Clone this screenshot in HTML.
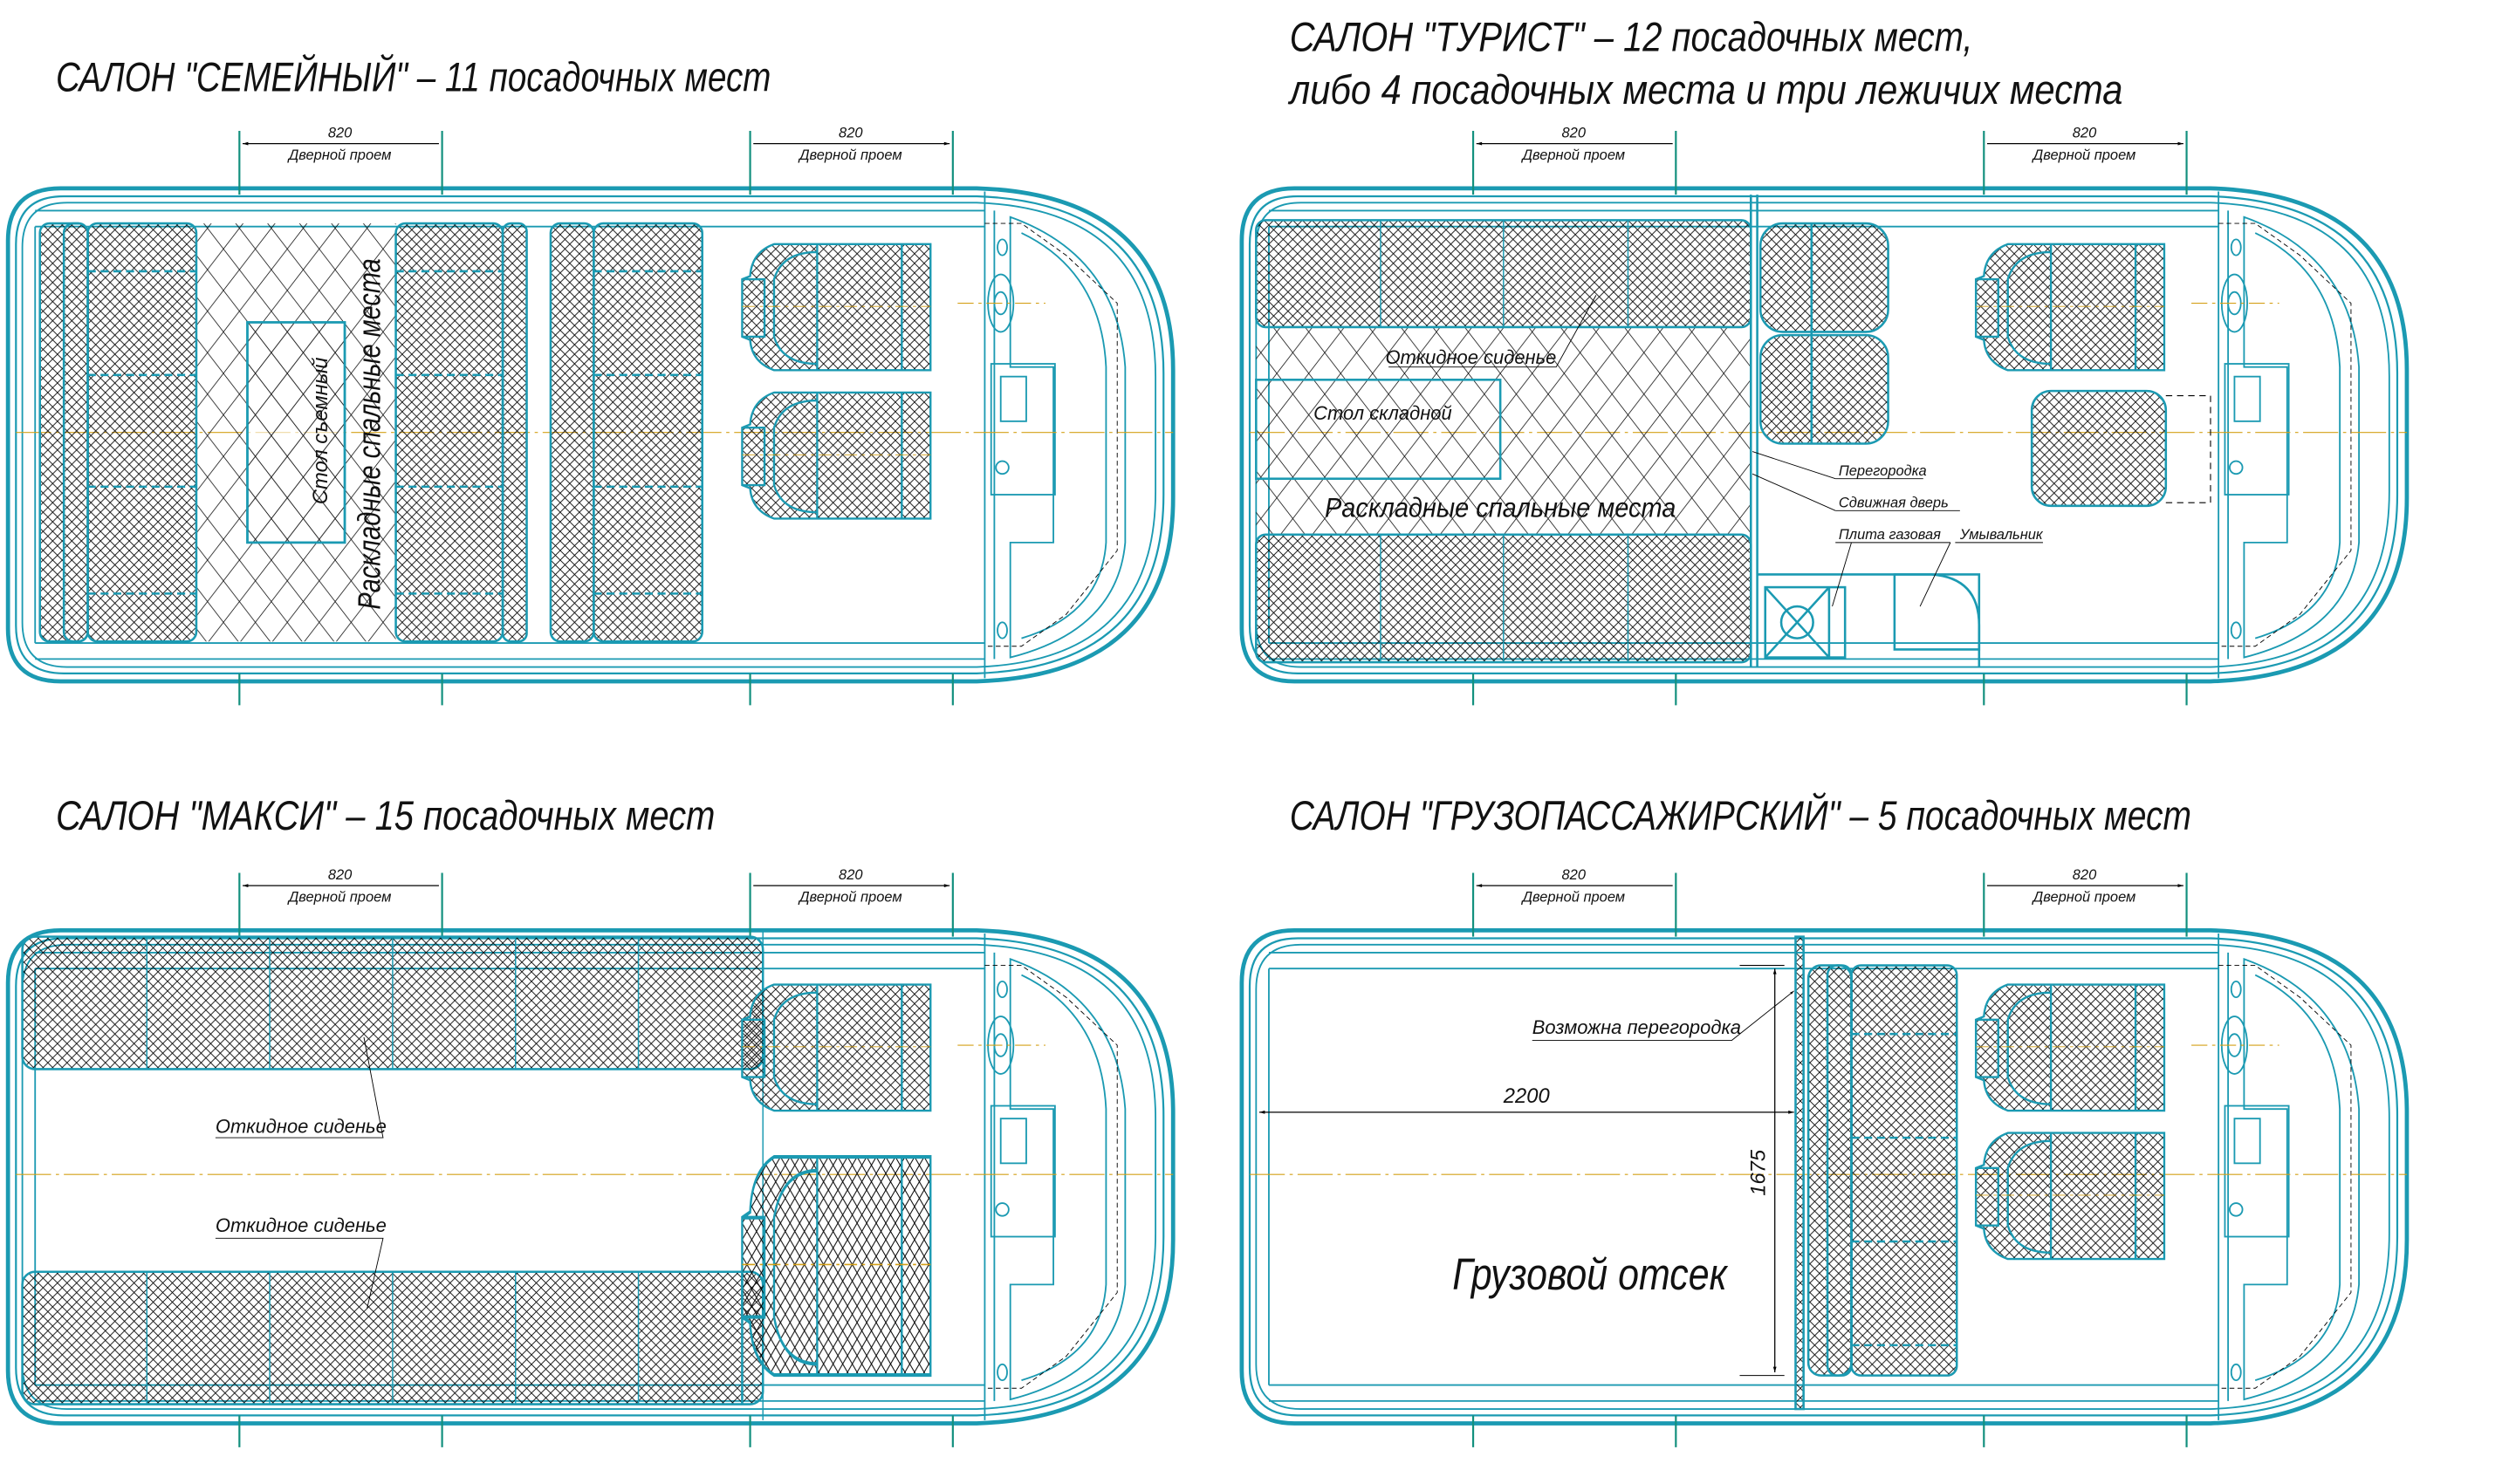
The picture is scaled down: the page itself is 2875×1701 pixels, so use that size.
<!DOCTYPE html>
<html><head><meta charset="utf-8"><style>
html,body{margin:0;padding:0;background:#fff}
svg{display:block}
text{font-family:"Liberation Sans","DejaVu Sans",sans-serif;font-style:italic;fill:#111}
</style></head><body>
<svg width="2875" height="1701" viewBox="0 0 1572 930" preserveAspectRatio="none" xmlns="http://www.w3.org/2000/svg">
<defs>
<pattern id="hd" width="6" height="6" patternUnits="userSpaceOnUse"><path d="M0 0L6 6M6 0L0 6" stroke="#000" stroke-width="0.45" fill="none"/></pattern>
<pattern id="hl" width="20" height="26" patternUnits="userSpaceOnUse"><path d="M0 0L20 26M20 0L0 26" stroke="#000" stroke-width="0.4" fill="none"/></pattern>
<marker id="ar" viewBox="0 0 10 10" refX="10" refY="5" markerWidth="6" markerHeight="5" orient="auto-start-reverse"><path d="M0 2L10 5L0 8z" fill="#000"/></marker>
<g id="body" fill="none" stroke="#1b9ab2">
 <path d="M38 118 L612 118 Q735 122 735 232 L735 312 Q735 423 612 427 L38 427 Q5 427 5 394 L5 151 Q5 118 38 118Z" stroke-width="2.6"/>
 <path d="M40 123 L612 123 Q729 127 729 234 L729 310 Q729 418 612 422 L40 422 Q10 422 10 392 L10 153 Q10 123 40 123Z" stroke-width="1.2"/>
 <path d="M42 127 L612 127 Q724 131 724 236 L724 308 Q724 414 612 418 L42 418 Q14 418 14 390 L14 155 Q14 127 42 127Z" stroke-width="1"/>
 <path d="M22 132 L617 132 M22 413 L617 413 M22 142 L617 142 M22 403 L617 403 M22 142 L22 403" stroke-width="1"/>
 <path d="M617 120 L617 425 M623 132 L623 413" stroke-width="1"/>
 <path d="M633 136 Q700 160 705 230 L705 340 Q700 395 633 412 L633 340 L660 340 L660 230 L633 230Z" stroke-width="1"/>
 <path d="M640 146 Q690 170 693 230 L693 340 Q690 385 640 400" stroke-width="1"/>
 <path d="M617 140 L640 140 L668 160 L700 190 L700 345 L668 385 L640 405 L617 405" stroke="#000" stroke-width="0.5" stroke-dasharray="3 2"/>
 <ellipse cx="627" cy="190" rx="8" ry="18" stroke-width="1"/><ellipse cx="627" cy="190" rx="4" ry="7" stroke-width="1"/>
 <rect x="621" y="228" width="40" height="82" stroke-width="1"/><rect x="627" y="236" width="16" height="28" stroke-width="1"/>
 <circle cx="628" cy="293" r="4" stroke-width="1"/>
 <ellipse cx="628" cy="155" rx="3" ry="5" stroke-width="1"/><ellipse cx="628" cy="395" rx="3" ry="5" stroke-width="1"/>
 <path d="M150 82 L150 122 M277 82 L277 122 M470 82 L470 122 M597 82 L597 122 M150 422 L150 442 M277 422 L277 442 M470 422 L470 442 M597 422 L597 442" stroke="#13907e" stroke-width="1.2"/>
 <path d="M152 90 L275 90 M472 90 L595 90" stroke="#000" stroke-width="0.7" marker-start="url(#ar)" marker-end="url(#ar)"/>
 <path d="M10 271 L735 271" stroke="#d4a017" stroke-width="0.6" stroke-dasharray="22 3 2 3"/>
 <path d="M600 190 L655 190" stroke="#d4a017" stroke-width="0.6" stroke-dasharray="10 3 2 3"/>
</g>
<g id="dlab"><text x="213" y="86" font-size="9" text-anchor="middle">820</text><text x="213" y="100" font-size="9" text-anchor="middle">Дверной проем</text><text x="533" y="86" font-size="9" text-anchor="middle">820</text><text x="533" y="100" font-size="9" text-anchor="middle">Дверной проем</text></g>
<g id="seat" stroke="#1b9ab2" stroke-width="1.3">
 <path d="M20 0 L118 0 L118 79 L20 79 Q6 74 5 60 L0 58 L0 22 L5 20 Q6 5 20 0Z" fill="url(#hd)"/>
 <path d="M47 0 L47 79 M100 0 L100 79 M0 22 L14 22 L14 58 L0 58 M47 5 Q25 5 20 22 L20 58 Q25 75 47 75" fill="none"/>
 <path d="M0 39 L118 39" stroke="#d4a017" stroke-width="0.5" stroke-dasharray="8 3 2 3"/>
</g>
</defs>

<!-- Panel 1 -->
<use href="#body"/><use href="#dlab"/>
<text x="35" y="57" font-size="26" textLength="448" lengthAdjust="spacingAndGlyphs">САЛОН "СЕМЕЙНЫЙ" – 11 посадочных мест</text>
<g stroke="#1b9ab2" stroke-width="1.4">
 <rect x="123" y="140" width="125" height="262" fill="url(#hl)" stroke="none"/>
 <rect x="25" y="140" width="30" height="262" rx="6" fill="url(#hd)"/>
 <rect x="40" y="140" width="15" height="262" rx="6" fill="none"/>
 <rect x="55" y="140" width="68" height="262" rx="6" fill="url(#hd)"/>
 <rect x="248" y="140" width="67" height="262" rx="6" fill="url(#hd)"/>
 <rect x="315" y="140" width="15" height="262" rx="5" fill="url(#hd)"/>
 <rect x="345" y="140" width="27" height="262" rx="6" fill="url(#hd)"/>
 <rect x="372" y="140" width="68" height="262" rx="6" fill="url(#hd)"/>
 <rect x="155" y="202" width="61" height="138" fill="#fff" fill-opacity="0.6"/>
 <rect x="155" y="202" width="61" height="138" fill="url(#hl)"/>
 <path d="M55 170 L123 170 M55 235 L123 235 M55 305 L123 305 M55 372 L123 372 M248 170 L315 170 M248 235 L315 235 M248 305 L315 305 M248 372 L315 372 M372 170 L440 170 M372 235 L440 235 M372 305 L440 305 M372 372 L440 372" stroke-dasharray="5 3"/>
</g>
<text transform="translate(205 270) rotate(-90)" font-size="13" text-anchor="middle">Стол съемный</text>
<text transform="translate(238 272) rotate(-90)" font-size="20" text-anchor="middle" textLength="220" lengthAdjust="spacingAndGlyphs">Раскладные спальные места</text>
<use href="#seat" x="465" y="153"/><use href="#seat" x="465" y="246"/>

<!-- Panel 2 -->
<use href="#body" x="773"/><use href="#dlab" x="773"/>
<text x="808" y="32" font-size="26" textLength="428" lengthAdjust="spacingAndGlyphs">САЛОН "ТУРИСТ" – 12 посадочных мест,</text>
<text x="808" y="65" font-size="26" textLength="522" lengthAdjust="spacingAndGlyphs">либо 4 посадочных места и три лежичих места</text>
<g stroke="#1b9ab2" stroke-width="1.4">
 <rect x="787" y="205" width="310" height="130" fill="url(#hl)" stroke="none"/>
 <rect x="787" y="138" width="310" height="67" rx="6" fill="url(#hd)"/>
 <rect x="787" y="335" width="310" height="80" rx="6" fill="url(#hd)"/>
 <path d="M865 138 L865 205 M942 138 L942 205 M1020 138 L1020 205 M865 335 L865 415 M942 335 L942 415 M1020 335 L1020 415" stroke-width="0.8"/>
 <rect x="787" y="238" width="153" height="62" fill="none"/>
 <path d="M1097 122 L1097 418 M1101 122 L1101 418"/>
 <rect x="1103" y="140" width="80" height="68" rx="14" fill="url(#hd)"/>
 <rect x="1103" y="210" width="80" height="68" rx="14" fill="url(#hd)"/>
 <path d="M1135 140 L1135 278 M1101 360 L1240 360 L1240 418" fill="none"/>
 <rect x="1106" y="368" width="50" height="44" fill="none"/>
 <path d="M1106 368 L1146 412 M1146 368 L1106 412 M1146 368 L1146 412"/>
 <circle cx="1126" cy="390" r="10" fill="none"/>
 <path d="M1187 360 L1210 360 Q1240 362 1240 392 L1240 407 L1187 407Z" fill="none"/>
 <rect x="1273" y="245" width="84" height="72" rx="12" fill="url(#hd)"/>
 <path d="M1357 248 L1385 248 L1385 315 L1357 315" stroke="#000" stroke-width="0.6" stroke-dasharray="4 3" fill="none"/>
</g>
<path d="M1098 283 L1150 300 M1098 297 L1150 320 M1160 340 L1148 380 M1222 340 L1203 380" stroke="#000" stroke-width="0.5"/>
<path d="M1150 300 L1205 300 M1150 320 L1228 320 M1150 340 L1222 340 M1225 340 L1280 340 M870 230 L975 230 L1000 185" stroke="#000" stroke-width="0.5" fill="none"/>
<text x="1152" y="298" font-size="9">Перегородка</text>
<text x="1152" y="318" font-size="9">Сдвижная дверь</text>
<text x="1152" y="338" font-size="9">Плита газовая</text>
<text x="1228" y="338" font-size="9">Умывальник</text>
<text x="868" y="228" font-size="12">Откидное сиденье</text>
<text x="823" y="263" font-size="12">Стол складной</text>
<text x="830" y="324" font-size="17" textLength="220" lengthAdjust="spacingAndGlyphs">Раскладные спальные места</text>
<use href="#seat" x="1238" y="153"/>

<!-- Panel 3 -->
<use href="#body" y="465"/><use href="#dlab" y="465"/>
<text x="35" y="520" font-size="26" textLength="413" lengthAdjust="spacingAndGlyphs">САЛОН "МАКСИ" – 15 посадочных мест</text>
<g stroke="#1b9ab2" stroke-width="1.4">
 <rect x="14" y="587" width="464" height="83" rx="8" fill="url(#hd)"/>
 <rect x="14" y="797" width="464" height="83" rx="8" fill="url(#hd)"/>
 <path d="M92 587 L92 670 M169 587 L169 670 M246 587 L246 670 M323 587 L323 670 M400 587 L400 670 M92 797 L92 880 M169 797 L169 880 M246 797 L246 880 M323 797 L323 880 M400 797 L400 880 M478 583 L478 890" stroke-width="0.8"/>
 <path d="M465 797 L465 880" />
</g>
<use href="#seat" x="465" y="617"/>
<g transform="translate(465 725) scale(1 1.73)"><use href="#seat"/></g>
<path d="M135 713 L240 713 L228 650 M135 776 L240 776 L230 820" stroke="#000" stroke-width="0.5" fill="none"/>
<text x="135" y="710" font-size="12">Откидное сиденье</text>
<text x="135" y="772" font-size="12">Откидное сиденье</text>

<!-- Panel 4 -->
<use href="#body" x="773" y="465"/><use href="#dlab" x="773" y="465"/>
<text x="808" y="520" font-size="26" textLength="565" lengthAdjust="spacingAndGlyphs">САЛОН "ГРУЗОПАССАЖИРСКИЙ" – 5 посадочных мест</text>
<g stroke="#1b9ab2" stroke-width="1.4">
 <rect x="1125" y="587" width="5" height="296" fill="url(#hd)"/>
 <rect x="1133" y="605" width="27" height="257" rx="8" fill="url(#hd)"/>
 <rect x="1145" y="605" width="15" height="257" rx="6" fill="none"/>
 <rect x="1160" y="605" width="66" height="257" rx="6" fill="url(#hd)"/>
 <path d="M1160 648 L1226 648 M1160 713 L1226 713 M1160 778 L1226 778 M1160 843 L1226 843" stroke-dasharray="5 3"/>
</g>
<use href="#seat" x="1238" y="617"/><use href="#seat" x="1238" y="710"/>
<path d="M1090 605 L1118 605 M1090 862 L1118 862" stroke="#000" stroke-width="0.6"/>
<path d="M1112 607 L1112 860" stroke="#000" stroke-width="0.7" marker-start="url(#ar)" marker-end="url(#ar)"/>
<path d="M789 697 L1124 697" stroke="#000" stroke-width="0.7" marker-start="url(#ar)" marker-end="url(#ar)"/>
<path d="M960 652 L1085 652 L1124 621" stroke="#000" stroke-width="0.5" fill="none" marker-end="url(#ar)"/>
<text x="942" y="691" font-size="13">2200</text>
<text transform="translate(1106 735) rotate(-90)" font-size="13" text-anchor="middle">1675</text>
<text x="960" y="648" font-size="12">Возможна перегородка</text>
<text x="910" y="808" font-size="28" textLength="172" lengthAdjust="spacingAndGlyphs">Грузовой отсек</text>
</svg>
</body></html>
